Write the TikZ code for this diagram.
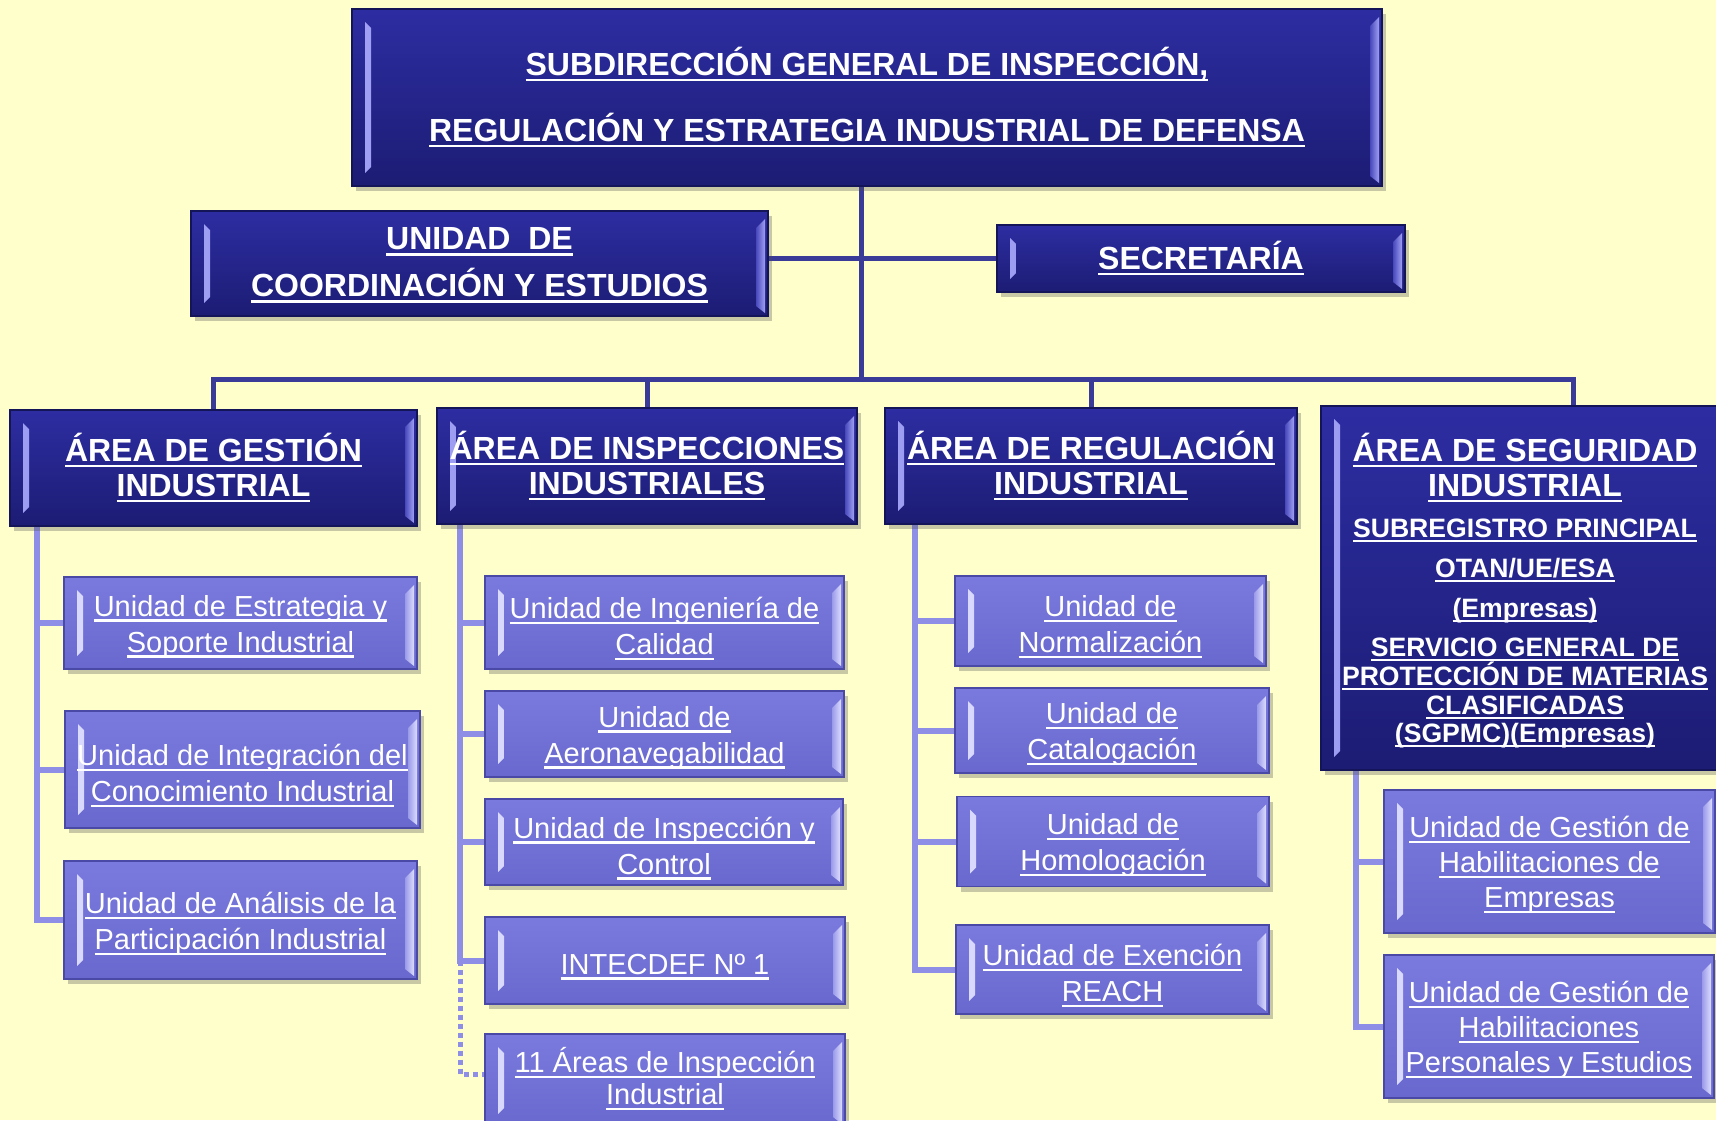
\documentclass[tikz,border=0pt]{standalone}
\usepackage{fontspec}
\setmainfont{Liberation Sans}
\usetikzlibrary{calc,shadows}
\pgfdeclarelayer{back}
\pgfdeclarelayer{links}
\pgfsetlayers{back,links,main}
\definecolor{bgc}{HTML}{FFFFCC}
\definecolor{dktop}{HTML}{2D2DA2}
\definecolor{dkbot}{HTML}{1C1C74}
\definecolor{dkedge}{HTML}{141458}
\definecolor{dkline}{HTML}{3A3A98}
\definecolor{dkfo}{HTML}{A0A0F4}
\definecolor{dkfi}{HTML}{4848BC}
\definecolor{lttop}{HTML}{7A7ADE}
\definecolor{ltbot}{HTML}{6868CE}
\definecolor{ltedge}{HTML}{4A4AA6}
\definecolor{ltline}{HTML}{8E8EE6}
\definecolor{ltfo}{HTML}{DCDCFF}
\definecolor{ltfi}{HTML}{9A9AEA}
\newsavebox\myulbox
\newlength\ulshift
\setlength\ulshift{0pt}
\newcommand{\myul}[1]{\sbox\myulbox{#1}\raisebox{-\ulshift}[\ht\myulbox][\dp\myulbox]{\rlap{\rule[-0.19em]{\wd\myulbox}{0.075em}}\usebox\myulbox}}
\newcommand{\hdfont}{\fontsize{32}{35}\selectfont\bfseries\lineskiplimit=-60pt\setlength\ulshift{-3.5pt}}
\newcommand{\hdsfont}{\fontsize{32}{35}\selectfont\bfseries}
\newcommand{\ttlfont}{\fontsize{32}{66}\selectfont\bfseries\lineskiplimit=-60pt\setlength\ulshift{-3.5pt}}
\newcommand{\crdfont}{\fontsize{32}{47}\selectfont\bfseries\lineskiplimit=-60pt\setlength\ulshift{-1.3pt}}
\newcommand{\subfont}{\fontsize{26.6}{29}\selectfont\bfseries}
\newcommand{\ltfont}{\fontsize{29}{36}\selectfont\lineskiplimit=-60pt\setlength\ulshift{3.5pt}}
\newcommand{\ltfontb}{\fontsize{29}{35}\selectfont\lineskiplimit=-60pt\setlength\ulshift{3.5pt}}
\newcommand{\ltfontc}{\fontsize{29}{32}\selectfont\lineskiplimit=-60pt\setlength\ulshift{-4.5pt}}
\tikzset{
  facets/.style 2 args={path picture={
    \shade[left color=#1, right color=#2]
      ($(path picture bounding box.north west)+(13pt,-13pt)$) --
      ($(path picture bounding box.north west)+(19pt,-19pt)$) --
      ($(path picture bounding box.south west)+(19pt,19pt)$) --
      ($(path picture bounding box.south west)+(13pt,13pt)$) -- cycle;
    \shade[left color=#2, right color=#1]
      ($(path picture bounding box.north east)+(-12pt,-17pt)$) --
      ($(path picture bounding box.north east)+(-3pt,-8pt)$) --
      ($(path picture bounding box.south east)+(-3pt,3pt)$) --
      ($(path picture bounding box.south east)+(-12pt,10pt)$) -- cycle;
  }},
  box/.style={draw, line width=1.2pt, inner sep=0pt, outer sep=0pt, align=center, text=white,
    drop shadow={shadow xshift=4pt, shadow yshift=-5pt, opacity=0.3, fill=black!70}},
  dkbox/.style={box, draw=dkedge, top color=dktop, bottom color=dkbot, facets={dkfo}{dkfi}, font=\hdfont},
  ltbox/.style={box, draw=ltedge, top color=lttop, bottom color=ltbot, facets={ltfo}{ltfi}, font=\ltfont},
  stext/.style={text=white, anchor=base, inner sep=0pt, outer sep=0pt},
  dk/.style={draw=dkline, line width=5pt},
  lt/.style={draw=ltline, line width=6pt},
  ltdot/.style={draw=ltline, line width=5pt, dash pattern=on 5pt off 4pt},
}
\begin{document}
\begin{tikzpicture}[x=1pt,y=-1pt]
\begin{pgfonlayer}{back}
\fill[bgc] (0,0) rectangle (1716,1120);
\end{pgfonlayer}
\useasboundingbox (0,0) rectangle (1716,1120);

% top level
\node[dkbox, minimum width=1030pt, minimum height=177pt, font=\ttlfont] (top) at (867,97.5)
  {\myul{SUBDIRECCIÓN GENERAL DE INSPECCIÓN,}\\\myul{REGULACIÓN Y ESTRATEGIA INDUSTRIAL DE DEFENSA}};
\node[dkbox, minimum width=577pt, minimum height=105pt, font=\crdfont] (coord) at (479.5,263.5)
  {\myul{UNIDAD\ \ DE}\\\myul{COORDINACIÓN Y ESTUDIOS}};
\node[dkbox, minimum width=408pt, minimum height=67pt] (secr) at (1201,258.5) {\myul{SECRETARÍA}};

% areas
\node[dkbox, minimum width=407pt, minimum height=116pt] (a1) at (213.5,468)
  {\myul{ÁREA DE GESTIÓN}\\\myul{INDUSTRIAL}};
\node[dkbox, minimum width=420pt, minimum height=116pt] (a2) at (647,466)
  {\myul{ÁREA DE INSPECCIONES}\\\myul{INDUSTRIALES}};
\node[dkbox, minimum width=412pt, minimum height=116pt] (a3) at (1091,466)
  {\myul{ÁREA DE REGULACIÓN}\\\myul{INDUSTRIAL}};
\node[dkbox, minimum width=408pt, minimum height=364pt] (a4) at (1525,588) {};
\node[stext, font=\hdsfont] (a4t1) at (1525,461) {\myul{ÁREA DE SEGURIDAD}};
\node[stext, font=\hdsfont] (a4t2) at (1525,496) {\myul{INDUSTRIAL}};
\node[stext, font=\subfont] (a4t3) at (1525,537) {\myul{SUBREGISTRO PRINCIPAL}};
\node[stext, font=\subfont] (a4t4) at (1525,577) {\myul{OTAN/UE/ESA}};
\node[stext, font=\subfont] (a4t5) at (1525,617) {\myul{(Empresas)}};
\node[stext, font=\subfont] (a4t6) at (1525,656) {\myul{SERVICIO GENERAL DE}};
\node[stext, font=\subfont] (a4t7) at (1525,685) {\myul{PROTECCIÓN DE MATERIAS}};
\node[stext, font=\subfont] (a4t8) at (1525,714) {\myul{CLASIFICADAS}};
\node[stext, font=\subfont] (a4t9) at (1525,742) {\myul{(SGPMC)(Empresas)}};

% column 1
\node[ltbox, minimum width=353pt, minimum height=92pt] (g1) at (240.5,623)
  {\myul{Unidad de Estrategia y}\\\myul{Soporte Industrial}};
\node[ltbox, minimum width=355pt, minimum height=117pt] (g2) at (242.5,769.5)
  {\myul{Unidad de Integración del}\\\myul{Conocimiento Industrial}};
\node[ltbox, minimum width=353pt, minimum height=118pt] (g3) at (240.5,920)
  {\myul{Unidad de Análisis de la}\\\myul{Participación Industrial}};

% column 2
\node[ltbox, minimum width=359pt, minimum height=93pt] (i1) at (664.5,622.5)
  {\myul{Unidad de Ingeniería de}\\\myul{Calidad}};
\node[ltbox, minimum width=359pt, minimum height=86pt] (i2) at (664.5,734)
  {\myul{Unidad de}\\\myul{Aeronavegabilidad}};
\node[ltbox, minimum width=358pt, minimum height=86pt] (i3) at (664,842)
  {\myul{Unidad de Inspección y}\\\myul{Control}};
\node[ltbox, minimum width=360pt, minimum height=87pt] (i4) at (665,960.5)
  {\myul{INTECDEF Nº 1}};
\node[ltbox, minimum width=360pt, minimum height=93pt, font=\ltfontc] (i5) at (665,1080.5)
  {\myul{11 Áreas de Inspección}\\\myul{Industrial}};

% column 3
\node[ltbox, minimum width=311pt, minimum height=90pt] (r1) at (1110.5,621)
  {\myul{Unidad de}\\\myul{Normalización}};
\node[ltbox, minimum width=314pt, minimum height=85pt] (r2) at (1112,730.5)
  {\myul{Unidad de}\\\myul{Catalogación}};
\node[ltbox, minimum width=312pt, minimum height=90pt] (r3) at (1113,841.5)
  {\myul{Unidad de}\\\myul{Homologación}};
\node[ltbox, minimum width=313pt, minimum height=89pt] (r4) at (1112.5,969.5)
  {\myul{Unidad de Exención}\\\myul{REACH}};

% column 4
\node[ltbox, minimum width=331pt, minimum height=143pt, font=\ltfontb] (s1) at (1549.5,861.5)
  {\myul{Unidad de Gestión de}\\\myul{Habilitaciones de}\\\myul{Empresas}};
\node[ltbox, minimum width=330pt, minimum height=143pt, font=\ltfontb] (s2) at (1549,1026.5)
  {\myul{Unidad de Gestión de}\\\myul{Habilitaciones}\\\myul{Personales y Estudios}};

% connectors
\begin{pgfonlayer}{links}
\coordinate (bus) at (861,379);
\coordinate (d4) at (1573,406);
\draw[dk] (top.south -| bus) -- (bus);
\draw[dk] (coord.east |- secr.west) -- (secr.west);
\draw[dk] (a1.north) |- (d4 |- bus) -- (d4);
\draw[dk] (a2.north |- bus) -- (a2.north);
\draw[dk] (a3.north |- bus) -- (a3.north);

\coordinate (sp1) at (37,526);
\draw[lt] (sp1) |- (g3.west);
\draw[lt] (sp1 |- g1.west) -- (g1.west);
\draw[lt] (sp1 |- g2.west) -- (g2.west);

\coordinate (sp2) at (460,524);
\coordinate (dt) at (460,1074);
\draw[lt] (sp2) |- (i4.west);
\draw[lt] (sp2 |- i1.west) -- (i1.west);
\draw[lt] (sp2 |- i2.west) -- (i2.west);
\draw[lt] (sp2 |- i3.west) -- (i3.west);
\draw[ltdot] (sp2 |- i4.west) -- (dt) -- (dt -| i5.west);

\coordinate (sp3) at (915,524);
\draw[lt] (sp3) |- (r4.west);
\draw[lt] (sp3 |- r1.west) -- (r1.west);
\draw[lt] (sp3 |- r2.west) -- (r2.west);
\draw[lt] (sp3 |- r3.west) -- (r3.west);

\coordinate (sp4) at (1356,770);
\draw[lt] (sp4) |- (s2.west);
\draw[lt] (sp4 |- s1.west) -- (s1.west);
\end{pgfonlayer}
\end{tikzpicture}
\end{document}
